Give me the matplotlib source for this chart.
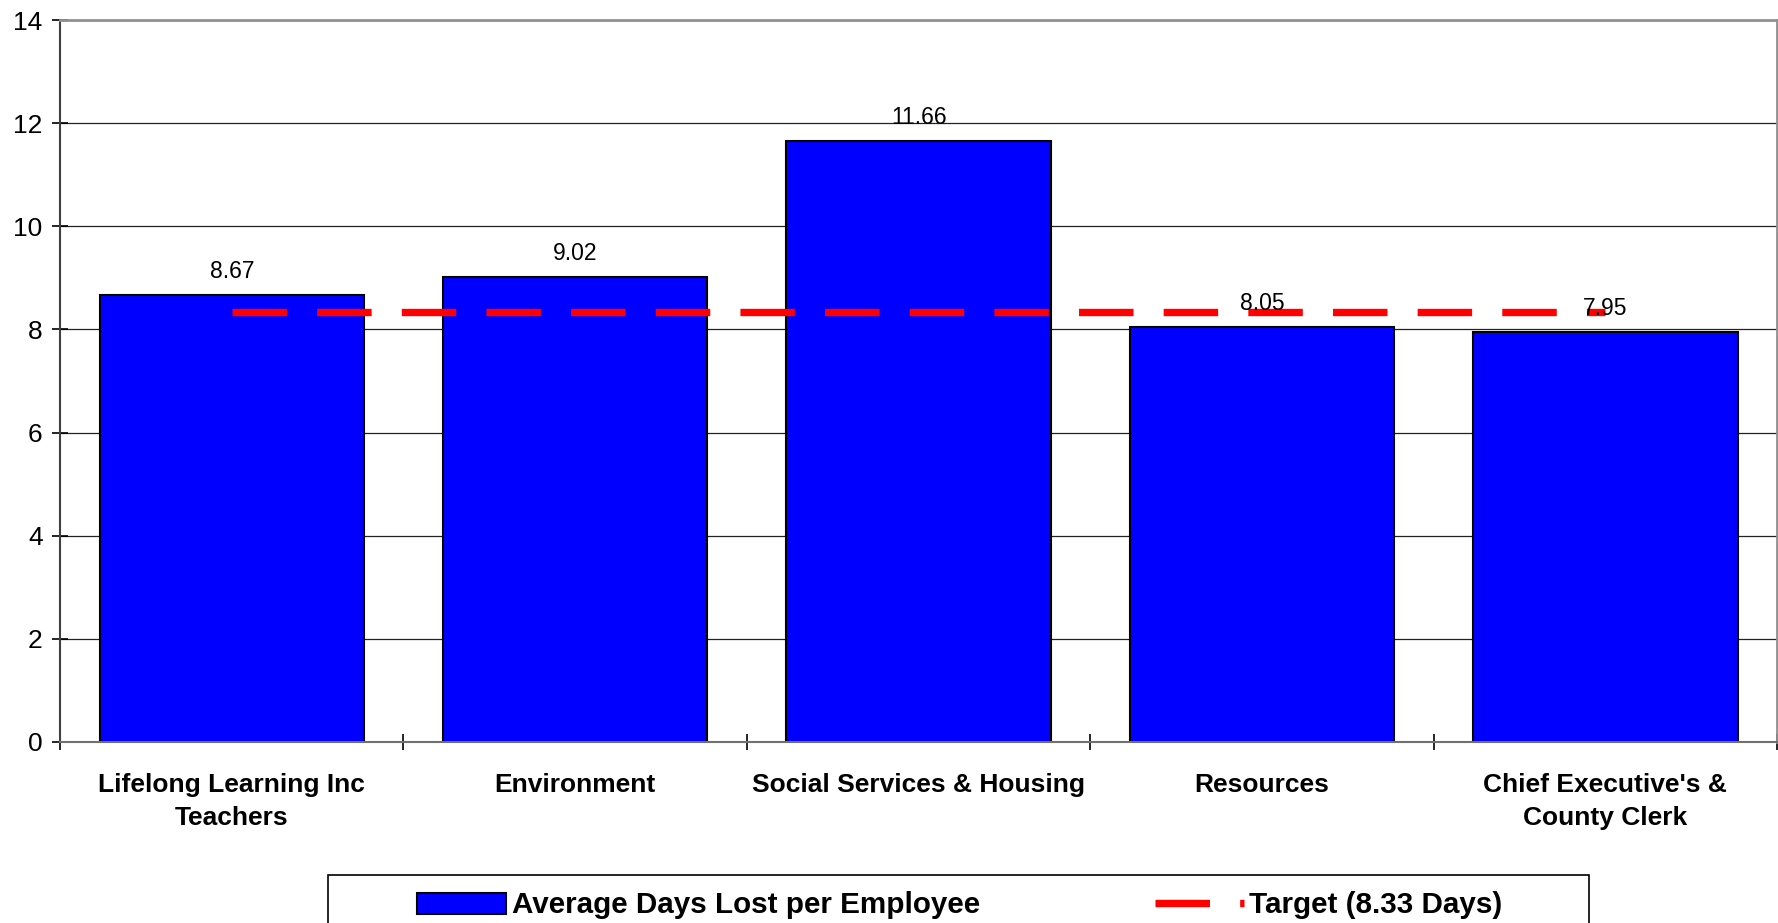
import numpy as np
import matplotlib
matplotlib.use("Agg")
import matplotlib.pyplot as plt
from matplotlib.patches import Rectangle

plt.rcParams['font.family'] = ['Liberation Sans', 'DejaVu Sans']

# data
categories = ["Lifelong Learning Inc\nTeachers", "Environment",
              "Social Services & Housing", "Resources",
              "Chief Executive's &\nCounty Clerk"]
days_lost = [8.67, 9.02, 11.66, 8.05, 7.95]
target = 8.33
yticks = [0, 2, 4, 6, 8, 10, 12, 14]

fig = plt.figure(figsize=(17.78, 9.23), dpi=100)
ax = fig.add_axes([0.0338, 0.1961, 0.9657, 0.7822])

x = np.arange(len(categories))

# grid behind the bars
ax.set_axisbelow(True)
ax.yaxis.grid(True, color='#222222', linewidth=0.9)

bars = ax.bar(x, days_lost, width=0.77, color='#0000FF', edgecolor='black',
              linewidth=1.5, label='Average Days Lost per Employee', zorder=2)

line, = ax.plot(x, [target] * len(x), color='#FF0000', linewidth=5.3,
                linestyle=(0, (7.4, 4.1)), dash_capstyle='butt',
                label='Target (8.33 Days)', zorder=3)

# value labels above the bars
for xi, v in zip(x, days_lost):
    ax.annotate(f'{v:.2f}', (xi, v), xytext=(0, 17), textcoords='offset points',
                ha='center', va='center', fontsize=16.5, zorder=4)

ax.set_xlim(-0.5, len(x) - 0.5)
ax.set_ylim(0, 14)
ax.set_yticks(yticks)
ax.tick_params(axis='y', direction='inout', length=11, width=1.2,
               labelsize=19, pad=7)

# category labels on major ticks, tick marks between categories
ax.set_xticks(x)
ax.set_xticklabels(categories, fontsize=19, fontweight='bold', linespacing=1.5)
ax.tick_params(axis='x', which='major', length=0, pad=22)
ax.set_xticks(np.arange(-0.5, len(x)), minor=True)
ax.tick_params(axis='x', which='minor', direction='inout', length=11, width=1.2)

ax.spines['left'].set_color('#404040')
ax.spines['left'].set_linewidth(1.5)
ax.spines['bottom'].set_color('#707070')
ax.spines['bottom'].set_linewidth(1.5)
ax.spines['top'].set_color('#909090')
ax.spines['top'].set_linewidth(2)
ax.spines['right'].set_color('#909090')
ax.spines['right'].set_linewidth(2)

# legend box at the bottom, partly cut by the figure edge
fig.patches.append(Rectangle((0.1845, -0.05), 0.7092, 0.102,
                             transform=fig.transFigure, fill=False,
                             edgecolor='black', linewidth=1.2))
leg = fig.legend([bars, line], [bars.get_label(), line.get_label()],
                 loc='center', bbox_to_anchor=(0.54, 0.019), ncol=2,
                 frameon=False, prop={'size': 21.3, 'weight': 'bold'},
                 handlelength=3.0, handleheight=0.71, handletextpad=0.2,
                 columnspacing=5.9)

fig.savefig('out.png', dpi=100)
